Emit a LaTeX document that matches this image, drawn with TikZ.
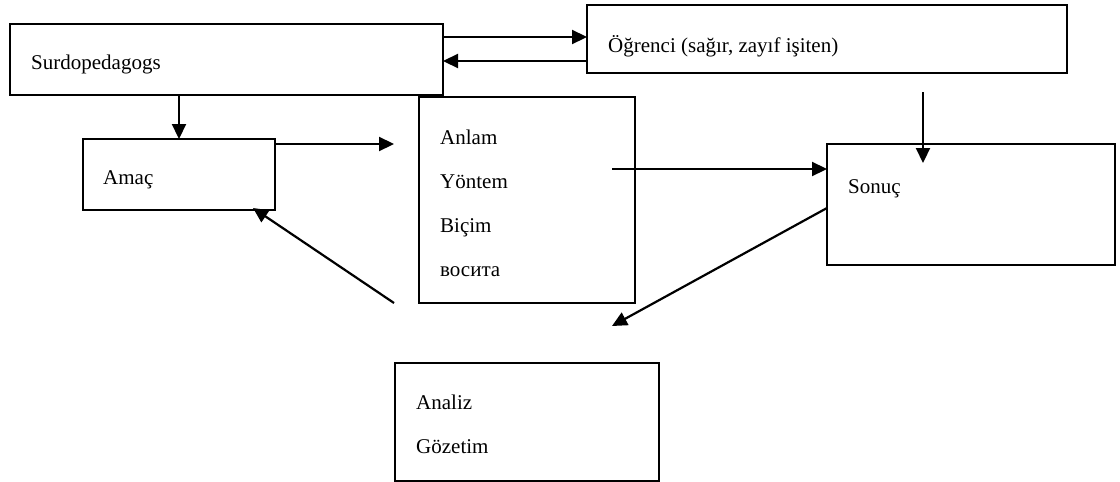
\documentclass[tikz,border=0pt]{standalone}
\usepackage{fontspec}
\setmainfont{Liberation Serif}
\usetikzlibrary{arrows.meta}
\begin{document}
\begin{tikzpicture}[x=1pt,y=-1pt,
  box/.style={draw,line width=2.2pt,rectangle,inner sep=0pt,outer sep=0pt,anchor=north west},
  lbl/.style={anchor=base west,inner sep=0pt,font=\fontsize{21}{25}\selectfont},
  arr/.style={line width=2.2pt,-{Triangle[length=15pt,width=14pt]}},
  ]
\useasboundingbox (0,0) rectangle (1120,482);
% boxes
\node[box,minimum width=433pt,minimum height=71pt] (surdo) at (10,24) {};
\node[box,minimum width=480pt,minimum height=68pt] (ogr) at (587,5) {};
\node[box,minimum width=192pt,minimum height=71pt] (amac) at (83,139) {};
\node[box,minimum width=216pt,minimum height=206pt] (anlam) at (419,97) {};
\node[box,minimum width=288pt,minimum height=121pt] (sonuc) at (827,144) {};
\node[box,minimum width=264pt,minimum height=118pt] (analiz) at (395,363) {};
% texts
\node[lbl] (tsurdo) at (31,69) {Surdopedagogs};
\node[lbl] (togr) at (608,52) {Öğrenci (sağır, zayıf işiten)};
\node[lbl] (tamac) at (103,184) {Amaç};
\node[lbl] (tanlam) at (440,144) {Anlam};
\node[lbl] (tyontem) at (440,188) {Yöntem};
\node[lbl] (tbicim) at (440,232) {Biçim};
\node[lbl] (tvosita) at (440,276) {восита};
\node[lbl] (tsonuc) at (848,193) {Sonuç};
\node[lbl] (tanaliz) at (416,409) {Analiz};
\node[lbl] (tgozetim) at (416,453) {Gözetim};
% connector end points
\coordinate (s1) at (443,37);
\coordinate (o1) at (587,37);
\coordinate (o2) at (587,61);
\coordinate (s2) at (443,61);
\coordinate (s3) at (179,95);
\coordinate (m1) at (179,139);
\coordinate (m2) at (275,144);
\coordinate (f1) at (394,144);
\coordinate (y1) at (612,169);
\coordinate (n1) at (827,169);
\coordinate (o3) at (923,92);
\coordinate (n2) at (923,163);
\coordinate (n3) at (827,208);
\coordinate (f2) at (612,326);
\coordinate (f3) at (394,303);
\coordinate (m3) at (253,208);
% connectors
\draw[arr] (s1) -- (o1);
\draw[arr] (o2) -- (s2);
\draw[arr] (s3) -- (m1);
\draw[arr] (m2) -- (f1);
\draw[arr] (y1) -- (n1);
\draw[arr] (o3) -- (n2);
\draw[arr] (n3) -- (f2);
\draw[arr] (f3) -- (m3);
\end{tikzpicture}
\end{document}
